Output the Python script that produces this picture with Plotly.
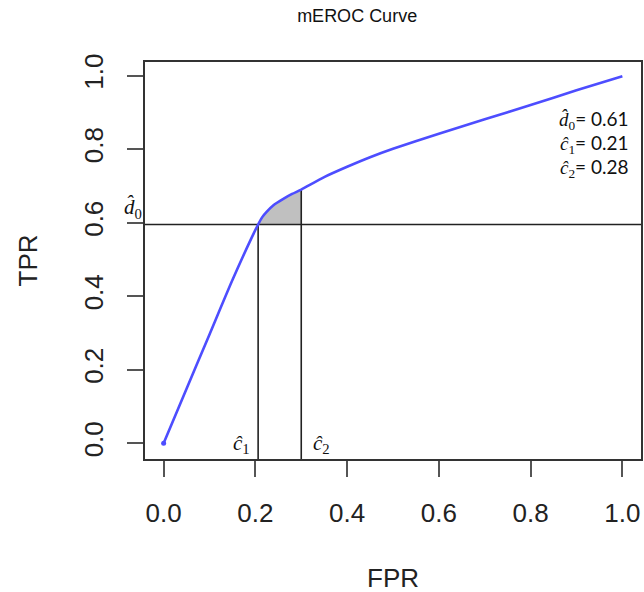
import numpy as np
import plotly.graph_objects as go

# ---- data ----
fpr = [0.0, 0.05, 0.10, 0.15, 0.206, 0.215, 0.225, 0.24, 0.26, 0.28, 0.30,
       0.35, 0.40, 0.45, 0.50, 0.60, 0.70, 0.80, 0.90, 1.0]
tpr = [0.0, 0.148, 0.296, 0.444, 0.595, 0.615, 0.630, 0.648, 0.664, 0.678, 0.690,
       0.724, 0.752, 0.778, 0.801, 0.842, 0.881, 0.920, 0.960, 0.998]
d0_line = 0.595
c1_line = 0.206
c2_line = 0.300
x_ticks = [0.0, 0.2, 0.4, 0.6, 0.8, 1.0]
x_ticktext = ["0.0", "0.2", "0.4", "0.6", "0.8", "1.0"]
y_ticks = [0.0, 0.2, 0.4, 0.6, 0.8, 1.0]
y_ticktext = ["0.0", "0.2", "0.4", "0.6", "0.8", "1.0"]
est_labels = ["0.61", "0.21", "0.28"]

X_RANGE = [-0.0406, 1.0406]
Y_RANGE = [-0.043, 1.037]

fig = go.Figure()

# shaded region between c1 and c2, above d0 and below curve
xs = [x for x in fpr if c1_line < x < c2_line]
xs = [c1_line] + xs + [c2_line]
ys = list(np.interp(xs, fpr, tpr))
poly_x = xs + [c2_line, c1_line]
poly_y = ys + [d0_line, d0_line]
fig.add_trace(go.Scatter(x=poly_x, y=poly_y, fill="toself", fillcolor="#c0c0c0",
                         line=dict(width=0), mode="lines", hoverinfo="skip",
                         showlegend=False))

# horizontal d0 line spanning the whole box
fig.add_trace(go.Scatter(x=X_RANGE, y=[d0_line, d0_line], mode="lines",
                         line=dict(color="#222222", width=1.6), showlegend=False))
# vertical lines
c2_top = float(np.interp(c2_line, fpr, tpr))
fig.add_trace(go.Scatter(x=[c1_line, c1_line], y=[Y_RANGE[0], d0_line], mode="lines",
                         line=dict(color="#222222", width=1.6), showlegend=False))
fig.add_trace(go.Scatter(x=[c2_line, c2_line], y=[Y_RANGE[0], c2_top], mode="lines",
                         line=dict(color="#222222", width=1.6), showlegend=False))

# ROC curve
fig.add_trace(go.Scatter(x=fpr, y=tpr, mode="lines", line_shape="spline",
                         line=dict(color="#4d4dff", width=2.6, smoothing=0.6),
                         showlegend=False))
fig.add_trace(go.Scatter(x=[fpr[0]], y=[tpr[0]], mode="markers",
                         marker=dict(color="#4d4dff", size=5), showlegend=False))

axis_common = dict(ticks="outside", ticklen=16, tickwidth=1.5, tickcolor="#555555",
                   showline=True, mirror=True, linecolor="#333333", linewidth=1.5,
                   showgrid=False, zeroline=False,
                   tickfont=dict(family="Liberation Sans, Arial, sans-serif", size=26,
                                 color="#222222"))

fig.update_layout(
    width=644, height=592,
    margin=dict(l=145, r=1, t=62, b=133),
    paper_bgcolor="white", plot_bgcolor="white",
    title=dict(text="mEROC Curve", xref="paper", yref="container",
               x=(358 - 145) / 498, y=1 - 16 / 592, xanchor="center", yanchor="middle",
               font=dict(family="Liberation Sans, Arial, sans-serif", size=18,
                         color="#111111")),
    xaxis=dict(range=X_RANGE, tickvals=x_ticks, ticktext=x_ticktext,
               ticklabelstandoff=14, **axis_common),
    yaxis=dict(range=Y_RANGE, tickvals=y_ticks, ticktext=y_ticktext,
               tickangle=-90, ticklabelstandoff=14, **axis_common),
)

ann_font = dict(family="Liberation Sans, Arial, sans-serif", size=26, color="#222222")
fig.add_annotation(text="FPR", xref="paper", yref="paper", x=0.5, y=0,
                   yshift=-119, xanchor="center", yanchor="middle",
                   showarrow=False, font=ann_font)
fig.add_annotation(text="TPR", xref="paper", yref="paper", x=0, y=0.5,
                   xshift=-118, xanchor="center", yanchor="middle", textangle=-90,
                   showarrow=False, font=ann_font)

serif = "Liberation Serif, Times New Roman, serif"
sym_font = dict(family=serif, size=21, color="#111111")
fig.add_annotation(text="<i>d\u0302</i><sub>0</sub>", xref="paper", yref="y",
                   x=0, y=d0_line, xanchor="right", yanchor="bottom", xshift=-1,
                   showarrow=False, font=sym_font)
fig.add_annotation(text="<i>c\u0302</i><sub>1</sub>", xref="x", yref="paper",
                   x=c1_line, y=0, xanchor="right", yanchor="bottom", xshift=-6,
                   showarrow=False, font=sym_font)
fig.add_annotation(text="<i>c\u0302</i><sub>2</sub>", xref="x", yref="paper",
                   x=c2_line, y=0, xanchor="left", yanchor="bottom", xshift=10,
                   showarrow=False, font=sym_font)

syms = ["d", "c", "c"]
subs = ["0", "1", "2"]
for i, (s, sb, v) in enumerate(zip(syms, subs, est_labels)):
    txt = (f"<span style='font-family:{serif}'><i>{s}\u0302</i><sub>{sb}</sub></span>"
           f"= {v}")
    fig.add_annotation(text=txt, xref="paper", yref="paper", x=1, y=1,
                       xanchor="right", yanchor="middle", xshift=-10,
                       yshift=-(120 - 62) - 24 * i,
                       showarrow=False,
                       font=dict(family="Lato, Open Sans, sans-serif", size=19,
                                 color="#111111"))

fig.write_html("out.html", config={"displayModeBar": False},
               post_script="document.body.style.margin='0';document.body.style.padding='0';")
